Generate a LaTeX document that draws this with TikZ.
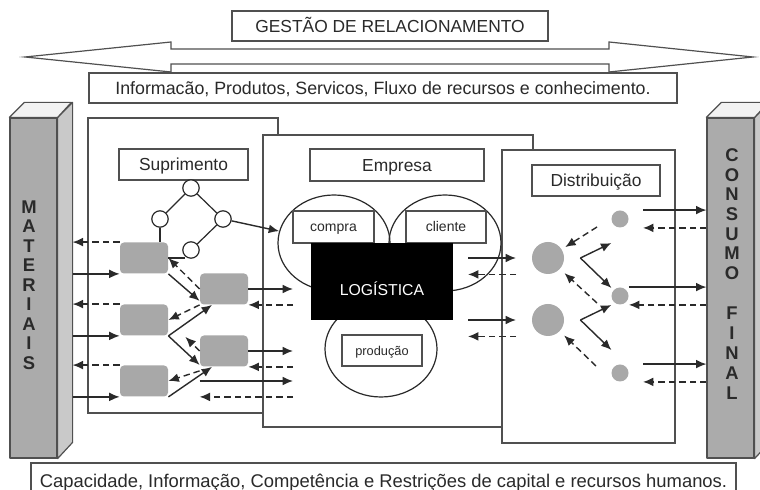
\documentclass[tikz,border=0pt]{standalone}
\usepackage{fontspec}
\setmainfont{Liberation Sans}
\usepackage{xcolor}
\usepackage{tikz}
\usetikzlibrary{calc,arrows.meta,shapes.geometric}
\definecolor{ink}{HTML}{2A2A2A}
\definecolor{edge}{HTML}{505050}
\definecolor{shade}{HTML}{A8A8A8}
\definecolor{face}{HTML}{ABABAB}
\definecolor{flank}{HTML}{C9C9C9}
\definecolor{lid}{HTML}{F2F2F2}
\tikzset{
  pane/.style={draw=edge, fill=white, line width=0.6pt},
  lbox/.style={draw=edge, fill=white, line width=0.6pt, text=ink, inner sep=0pt,
    font=\fontsize{8.7}{10}\selectfont, text height=6.2pt, text depth=0pt},
  lboxs/.style={lbox, font=\fontsize{7}{8}\selectfont, text height=5pt},
  blob/.style={fill=shade, rounded corners=2pt, minimum width=24pt, minimum height=15.5pt, inner sep=0pt},
  ring/.style={circle, draw=ink, fill=white, line width=0.6pt, minimum size=8.2pt, inner sep=0pt},
  dotg/.style={circle, fill=shade, inner sep=0pt},
  oval/.style={ellipse, draw=ink, line width=0.6pt, minimum width=56pt, minimum height=48pt, inner sep=0pt},
  link/.style={draw=ink, line width=0.6pt},
  flow/.style={draw=ink, line width=0.7pt, -{Latex[length=5.2pt,width=4.4pt]}},
  ret/.style={flow, dash pattern=on 3.2pt off 2pt},
  pillar/.style={draw=edge, line width=0.6pt, line join=round},
  letter/.style={text=ink, font=\bfseries\fontsize{9.2}{10}\selectfont, inner sep=0pt},
}

\begin{document}
\begin{tikzpicture}[x=0.5pt,y=-0.5pt]
\useasboundingbox (0,0) rectangle (760,490);
\clip (0,0) rectangle (760,490);

% relation arrow and bands
\draw[pane] (25,57) -- (171,42) -- (171,49) -- (609,49) -- (609,42) -- (753,57)
  -- (609,72) -- (609,64) -- (171,64) -- (171,72) -- cycle;
\node[lbox, minimum width=158pt, minimum height=15pt] (rel) at (390,26) {GESTÃO DE RELACIONAMENTO};
\node[lbox, font=\fontsize{8.9}{10}\selectfont, minimum width=294pt, minimum height=15pt] (info) at (383,88)
  {Informacão, Produtos, Servicos, Fluxo de recursos e conhecimento.};
\node[lbox, font=\fontsize{9.2}{10}\selectfont, minimum width=352.5pt, minimum height=18pt] (cap) at (383.5,481)
  {Capacidade, Informação, Competência e Restrições de capital e recursos humanos.};

% pillars
\node[pillar, fill=face, minimum width=23.5pt, minimum height=170pt, inner sep=0pt] (mat) at (33.5,288) {};
\draw[pillar, fill=flank] (mat.north east) -- ++(15,-15) -- ++(0,340) -- (mat.south east) -- cycle;
\draw[pillar, fill=lid] (mat.north west) -- ++(15,-15) -- ++(47,0) -- (mat.north east) -- cycle;
\node[pillar, fill=face, minimum width=23.5pt, minimum height=170pt, inner sep=0pt] (con) at (730.5,288) {};
\draw[pillar, fill=flank] (con.north east) -- ++(15,-15) -- ++(0,340) -- (con.south east) -- cycle;
\draw[pillar, fill=lid] (con.north west) -- ++(15,-15) -- ++(47,0) -- (con.north east) -- cycle;
\coordinate (mside) at ([xshift=7.5pt]mat.east);

\foreach \l [count=\i from 0] in {M,A,T,E,R,I,A,I,S}
  \node[letter] (m\i) at (29,207+19.5*\i) {\l};
\foreach \l [count=\i from 0] in {C,O,N,S,U,M,O}
  \node[letter] (k\i) at (732,155+19.7*\i) {\l};
\foreach \l [count=\i from 0] in {F,I,N,A,L}
  \node[letter] (f\i) at (732,313+20*\i) {\l};

% panels
\draw[pane] (88,118) rectangle (278,413);
\draw[pane] (263,135) rectangle (533,427);
\draw[pane] (502,150) rectangle (675,443);

% suprimento
\node[lbox, minimum width=64.5pt, minimum height=15.5pt] (sup) at (183.5,164.5) {Suprimento};
\node[ring] (c1) at (191,188) {};
\node[ring] (c2) at (160,219) {};
\node[ring] (c3) at (223,219) {};
\node[ring] (c4) at (191,250) {};
\draw[link] (c1) -- (c2);
\draw[link] (c1) -- (c3);
\draw[link] (c3) -- (c4);
\foreach \n/\x/\y in {s1/144/258, s2/224/289, s3/144/320, s4/224/351, s5/144/381}
  \node[blob] (\n) at (\x,\y) {};
\draw[link] (c2) -- (c2 |- s1.north);
\draw[link] (s1.east) -- (s1.east -| c4.south west);

% to and from materiais
\foreach \n in {s1,s3,s5}{
  \draw[ret] (\n.north west) -- (mside |- \n.north west);
  \draw[flow] (mside |- \n.south west) -- (\n.south west);
}

% between blobs
\draw[flow] (s1.south east) -- ([yshift=2pt]s2.south west);
\draw[ret] (s2.west) -- (s1.east);
\draw[flow] (s3.south east) -- ([xshift=-6pt]s2.south);
\draw[ret] (s2.south west) -- (s3.east);
\draw[flow] (s3.south east) -- ([yshift=1pt]s4.south west);
\draw[ret, shorten >=12pt] (s4.west) -- (s3.east);
\draw[flow] (s5.south east) -- ([xshift=-6pt]s4.south);
\draw[ret] ([yshift=-2pt]s4.south west) -- (s5.east);

% to and from empresa
\coordinate (ein) at (293,0);
\draw[flow] (s2.east) -- (ein |- s2.east);
\draw[ret] (ein |- s2.south east) -- (s2.south east);
\draw[flow] (s4.east) -- (ein |- s4.east);
\draw[ret] (ein |- s4.south east) -- (s4.south east);
\draw[flow] (s4.west |- s5.east) -- (ein |- s5.east);
\draw[ret] (ein |- s5.south) -- (s4.west |- s5.south);

% empresa
\node[lbox, minimum width=87pt, minimum height=16pt] (emp) at (397,165) {Empresa};
\node[oval] (ellL) at (334,243) {};
\node[oval] (ellR) at (445,243) {};
\node[oval] (ellP) at (381,349) {};
\node[lboxs, minimum width=40.5pt, minimum height=16pt] (buy) at (333.5,227) {compra};
\node[lboxs, minimum width=40pt, minimum height=16pt] (cli) at (446,227) {cliente};
\node[lboxs, font=\fontsize{6.4}{8}\selectfont, minimum width=40pt, minimum height=15.5pt] (prod) at (382,350.5) {produção};
\node[fill=black, minimum width=71pt, minimum height=38.5pt, inner sep=0pt] (log) at (382,281.5) {};
\node[text=white, font=\fontsize{7.9}{9}\selectfont, inner sep=0pt] (logt) at ([yshift=-3.8pt]log.center) {LOGÍSTICA};
\draw[flow] (c3) -- (ellL);

% distribuicao
\node[lbox, minimum width=64pt, minimum height=15.5pt] (dis) at (596,180.5) {Distribuição};
\node[dotg, minimum size=16pt] (dA) at (548,258) {};
\node[dotg, minimum size=16pt] (dB) at (548,320) {};
\node[dotg, minimum size=8.5pt] (t1) at (620,219) {};
\node[dotg, minimum size=8.5pt] (t2) at (620,296) {};
\node[dotg, minimum size=8.5pt] (t3) at (620,373) {};

% empresa to distribuicao
\coordinate (eout) at (468,0);
\coordinate (din) at (516,0);
\foreach \d in {dA,dB}{
  \draw[flow] (eout |- \d) -- (din |- \d);
  \draw[ret] (din |- \d.south) -- (eout |- \d.south);
  \coordinate (v\d) at ([xshift=8pt]\d.east);
  \draw[flow] (v\d) -- ++(31,-15);
  \draw[flow] (v\d) -- ++(31,30);
}
\coordinate (r1) at (597,227);
\coordinate (r2) at (597,303);
\coordinate (r3) at (596,366);
\draw[ret, shorten >=2pt] (r1) -- (dA);
\draw[ret, shorten >=3pt] (r2) -- (dA);
\draw[ret, shorten >=3pt] (r3) -- (dB);

% to and from consumo
\coordinate (dout) at (643,0);
\draw[flow] (t1.north -| dout) -- (t1.north -| con.west);
\draw[ret] (t1.south -| con.west) -- (t1.south -| dout);
\draw[flow] (t2.north -| t2.east) -- (t2.north -| con.west);
\draw[ret] (t2.south -| con.west) -- (t2.south -| t2.east);
\draw[flow] (t3.north -| dout) -- (t3.north -| con.west);
\draw[ret] (t3.south -| con.west) -- (t3.south -| dout);
\end{tikzpicture}
\end{document}
